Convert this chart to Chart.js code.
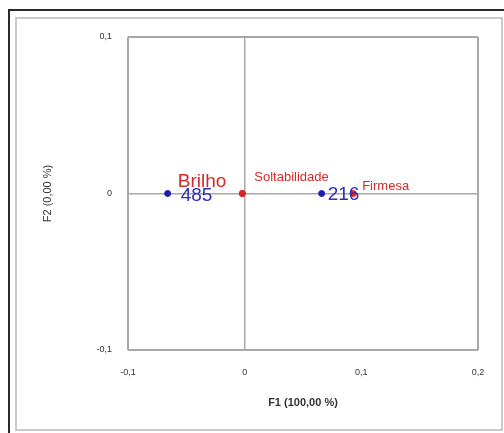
<!DOCTYPE html>
<html>
<head>
<meta charset="utf-8">
<script src="https://cdn.jsdelivr.net/npm/chart.js@4/dist/chart.umd.min.js"></script>
<style>
  body { margin: 0; background: #fff; }
  #wrap { width: 504px; height: 433px; position: relative; }
</style>
</head>
<body>
<div id="wrap"><canvas id="chart"></canvas></div>
<script>
// observations (blue)
const obsLabels = ['485', '216'];
const obsF1 = [-0.066, 0.066];
const obsF2 = [0, 0];

// variables (red)
const varLabels = ['Brilho', 'Soltabilidade', 'Firmesa'];
const varF1 = [-0.002, -0.002, 0.093];
const varF2 = [0, 0, 0];

const xTicks = [-0.1, 0, 0.1, 0.2];
const yTicks = [-0.1, 0, 0.1];
const xTitle = 'F1 (100,00 %)';
const yTitle = 'F2 (0,00 %)';

const fmt = v => String(Number(v.toFixed(1))).replace('.', ',');

// label placement: dx, dy from the point, text alignment
const obsLabelPos = [
  { dx: 13, dy: 2, align: 'left' },
  { dx: 6, dy: 1, align: 'left' }
];
const varLabelPos = [
  { dx: -16, dy: -12, align: 'right' },
  { dx: 12, dy: -16, align: 'left' },
  { dx: 9, dy: -7, align: 'left' }
];

const framePlugin = {
  id: 'frame',
  beforeDraw(chart) {
    const ctx = chart.ctx;
    ctx.save();
    ctx.fillStyle = '#fff';
    ctx.fillRect(0, 0, chart.width, chart.height);
    // outer dark frame (top + left)
    ctx.strokeStyle = '#2a2a2a';
    ctx.lineWidth = 2;
    ctx.beginPath();
    ctx.moveTo(504, 10);
    ctx.lineTo(9, 10);
    ctx.lineTo(9, 433);
    ctx.stroke();
    // inner light frame
    ctx.strokeStyle = '#c9c9c9';
    ctx.lineWidth = 2;
    ctx.strokeRect(16, 18, 486, 412);
    ctx.restore();
  }
};

const labelPlugin = {
  id: 'pointLabels',
  afterDatasetsDraw(chart) {
    const ctx = chart.ctx;
    const xs = chart.scales.x, ys = chart.scales.y;
    ctx.save();
    ctx.textBaseline = 'middle';
    ctx.font = '19px "Liberation Sans", Arial, sans-serif';
    ctx.fillStyle = '#2f2fb4';
    obsLabels.forEach((t, i) => {
      const p = obsLabelPos[i];
      ctx.textAlign = p.align;
      ctx.fillText(t, xs.getPixelForValue(obsF1[i]) + p.dx, ys.getPixelForValue(obsF2[i]) + p.dy);
    });
    ctx.fillStyle = '#d42a2a';
    varLabels.forEach((t, i) => {
      const p = varLabelPos[i];
      ctx.font = i === 0 ? '19px "Liberation Sans", Arial, sans-serif' : '13px "Liberation Sans", Arial, sans-serif';
      ctx.textAlign = p.align;
      ctx.fillText(t, xs.getPixelForValue(varF1[i]) + p.dx, ys.getPixelForValue(varF2[i]) + p.dy);
    });
    ctx.restore();
  }
};

const edgeOrZero = (v, lo, hi) => v === 0 || Math.abs(v - lo) < 1e-9 || Math.abs(v - hi) < 1e-9;

new Chart(document.getElementById('chart'), {
  type: 'scatter',
  data: {
    datasets: [
      {
        label: 'Observações',
        data: obsF1.map((x, i) => ({ x: x, y: obsF2[i] })),
        backgroundColor: '#1c1cb0',
        borderColor: '#1c1cb0',
        pointRadius: 3
      },
      {
        label: 'Variáveis',
        data: varF1.map((x, i) => ({ x: x, y: varF2[i] })),
        backgroundColor: '#e02424',
        borderColor: '#e02424',
        pointRadius: 3
      }
    ]
  },
  options: {
    responsive: true,
    maintainAspectRatio: false,
    animation: false,
    layout: { padding: { left: 0, top: 37, right: 26, bottom: 0 } },
    plugins: {
      legend: { display: false },
      tooltip: { enabled: false }
    },
    scales: {
      x: {
        type: 'linear',
        min: xTicks[0],
        max: xTicks[xTicks.length - 1],
        afterBuildTicks: s => { s.ticks = xTicks.map(v => ({ value: v })); },
        afterFit: s => { s.height = 83; },
        ticks: {
          padding: 17,
          color: '#333',
          font: { family: '"Liberation Sans", Arial, sans-serif', size: 9 },
          callback: v => fmt(v)
        },
        grid: {
          drawTicks: false,
          color: c => edgeOrZero(c.tick.value, -0.1, 0.2) ? '#a8a8a8' : 'rgba(0,0,0,0)',
          lineWidth: c => c.tick.value === 0 ? 1.5 : 2
        },
        border: { display: false },
        title: {
          display: true,
          text: xTitle,
          color: '#333',
          font: { family: '"Liberation Sans", Arial, sans-serif', size: 11, weight: 'bold' },
          padding: { top: 0, bottom: 23 }
        }
      },
      y: {
        type: 'linear',
        min: yTicks[0],
        max: yTicks[yTicks.length - 1],
        afterBuildTicks: s => { s.ticks = yTicks.map(v => ({ value: v })); },
        afterFit: s => { s.width = 128; },
        ticks: {
          padding: 16,
          color: '#333',
          font: { family: '"Liberation Sans", Arial, sans-serif', size: 9 },
          callback: v => fmt(v)
        },
        grid: {
          drawTicks: false,
          color: '#a8a8a8',
          lineWidth: c => c.tick.value === 0 ? 1.5 : 2
        },
        border: { display: false },
        title: {
          display: true,
          text: yTitle,
          color: '#333',
          font: { family: '"Liberation Sans", Arial, sans-serif', size: 11 },
          padding: { top: 41, bottom: 0 }
        }
      }
    }
  },
  plugins: [framePlugin, labelPlugin]
});
</script>
</body>
</html>
